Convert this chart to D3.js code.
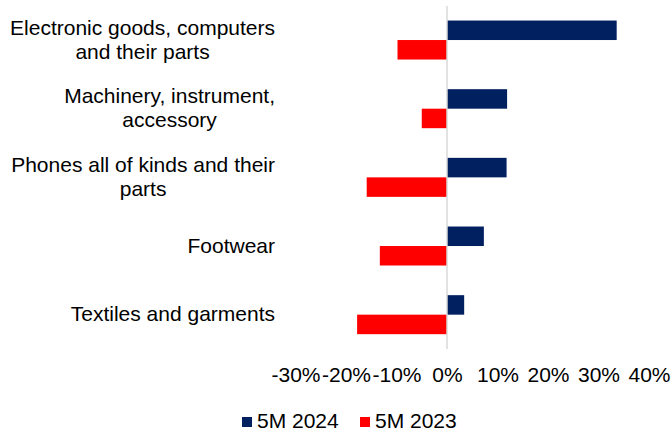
<!DOCTYPE html>
<html>
<head>
<meta charset="utf-8">
<script src="https://cdn.jsdelivr.net/npm/d3@7"></script>
<style>
  body { margin: 0; background: #fff; }
  text { font-family: "Liberation Sans", Arial, sans-serif; fill: #000; }
</style>
</head>
<body>
<svg id="chart" width="672" height="431"></svg>
<script>
// data
var categories = [
    "Electronic goods, computers and their parts",
    "Machinery, instrument, accessory",
    "Phones all of kinds and their parts",
    "Footwear",
    "Textiles and garments"
];
var seriesNames = ["5M 2024", "5M 2023"];
var values2024 = [33.6, 11.9, 11.8, 7.3, 3.4];
var values2023 = [-9.8, -5.0, -15.9, -13.3, -17.8];
var tickValues = [-30, -20, -10, 0, 10, 20, 30, 40];
var colors = ["#002060", "#FF0000"];

var svg = d3.select("#chart");
var fontSize = "21px";

var x = d3.scaleLinear().domain([-30, 40]).range([295.5, 649]);
var y = d3.scaleBand().domain(categories).range([5.7, 349]).padding(0);
var barH = 19.5;
var ySub = d3.scaleBand().domain(seriesNames)
    .range([y.bandwidth()/2 - barH, y.bandwidth()/2 + barH]);

var rows = [];
categories.forEach(function(c, i){
    rows.push({cat: c, s: seriesNames[0], v: values2024[i], col: colors[0]});
    rows.push({cat: c, s: seriesNames[1], v: values2023[i], col: colors[1]});
});

// bars
svg.append("g").selectAll("rect")
    .data(rows)
    .enter().append("rect")
    .attr("x", function(d){ return x(Math.min(0, d.v)); })
    .attr("y", function(d){ return y(d.cat) + ySub(d.s); })
    .attr("width", function(d){ return Math.abs(x(d.v) - x(0)); })
    .attr("height", ySub.bandwidth())
    .attr("fill", function(d){ return d.col; });

// zero line
svg.append("line")
    .attr("x1", x(0)).attr("x2", x(0))
    .attr("y1", 6).attr("y2", 349)
    .attr("stroke", "#d9d9d9")
    .attr("stroke-width", 1.5);

// x axis labels
var xAxis = d3.axisBottom(x)
    .tickValues(tickValues)
    .tickSize(0)
    .tickPadding(0)
    .tickFormat(function(d){ return d + "%"; });

var gx = svg.append("g")
    .attr("transform", "translate(0,370)")
    .call(xAxis);
gx.select(".domain").remove();
gx.selectAll("text")
    .attr("y", 12)
    .attr("dy", 0)
    .style("font-family", "Liberation Sans, Arial, sans-serif")
    .style("font-size", fontSize)
    .attr("fill", "#000");

// category labels, wrapped and centered in a right-aligned block
var labelRight = 275;
var maxW = 272;
var lineH = 24;

categories.forEach(function(c){
    var t = svg.append("text")
        .style("font-size", fontSize)
        .attr("text-anchor", "middle");
    var words = c.split(" ");
    var lines = [];
    var cur = "";
    var probe = svg.append("text").style("font-size", fontSize);
    words.forEach(function(w){
        var test = cur ? cur + " " + w : w;
        probe.text(test);
        if (probe.node().getComputedTextLength() > maxW && cur) {
            lines.push(cur);
            cur = w;
        } else {
            cur = test;
        }
    });
    lines.push(cur);
    var widest = 0;
    lines.forEach(function(l){
        probe.text(l);
        widest = Math.max(widest, probe.node().getComputedTextLength());
    });
    probe.remove();

    var cx = labelRight - widest/2;
    var cy = y(c) + y.bandwidth()/2;
    var first = cy - (lines.length - 1) * lineH / 2 + 6.7;
    lines.forEach(function(l, i){
        t.append("tspan")
            .attr("x", cx)
            .attr("y", first + i*lineH)
            .text(l);
    });
});

// legend
var legend = svg.append("g");
var legendX = [242, 360];
seriesNames.forEach(function(s, i){
    legend.append("rect")
        .attr("x", legendX[i]).attr("y", 417)
        .attr("width", 10).attr("height", 10)
        .attr("fill", colors[i]);
    legend.append("text")
        .attr("x", legendX[i] + 15)
        .attr("y", 428)
        .style("font-size", fontSize)
        .text(s);
});
</script>
</body>
</html>
